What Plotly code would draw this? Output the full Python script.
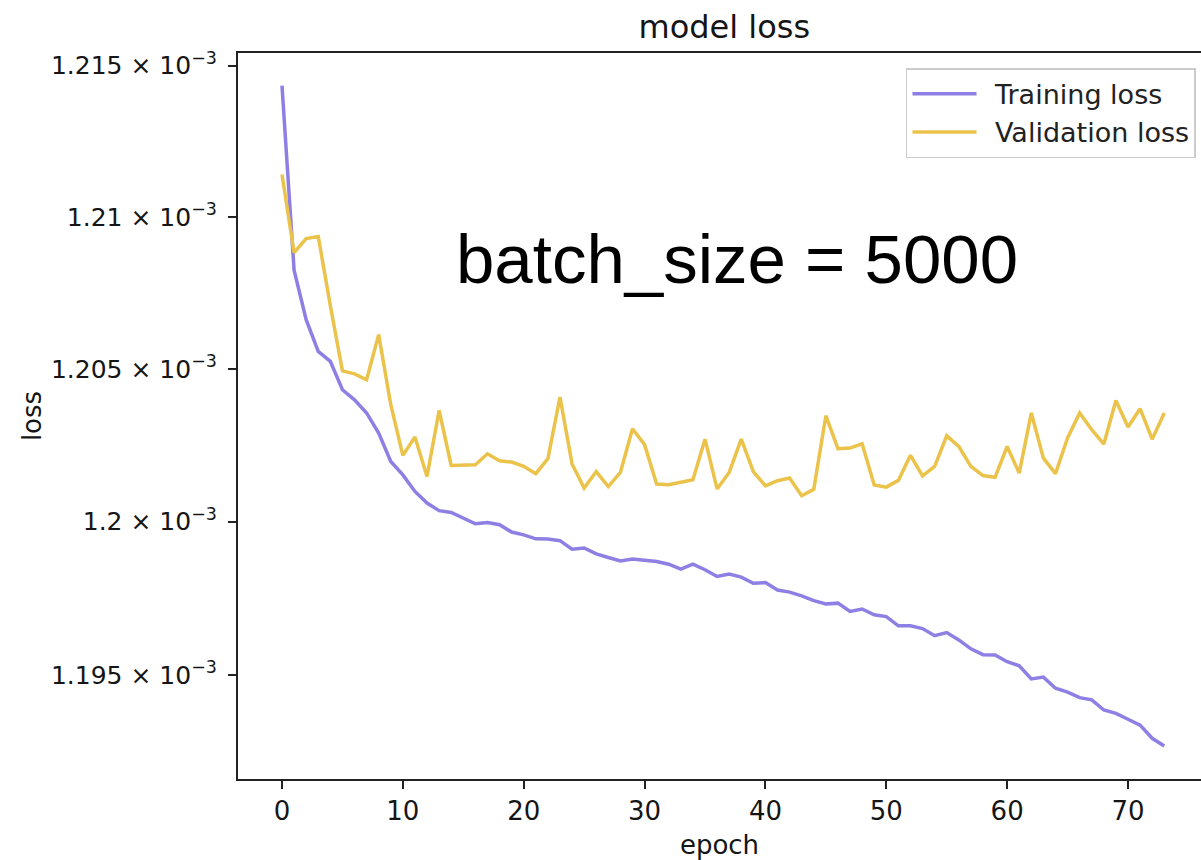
import plotly.graph_objects as go

epochs = list(range(74))

training_loss = [
    1.21434, 1.20825, 1.20662, 1.20558, 1.20525, 1.20432, 1.20399, 1.20356, 1.20290, 1.20197,
    1.20153, 1.20099, 1.20061, 1.20036, 1.20030, 1.20011, 1.19993, 1.19997, 1.19990, 1.19966,
    1.19957, 1.19944, 1.19943, 1.19938, 1.19910, 1.19914, 1.19895, 1.19883, 1.19872, 1.19878,
    1.19875, 1.19870, 1.19861, 1.19845, 1.19861, 1.19843, 1.19821, 1.19829, 1.19819, 1.19799,
    1.19801, 1.19777, 1.19770, 1.19758, 1.19742, 1.19731, 1.19734, 1.19707, 1.19715, 1.19696,
    1.19690, 1.19660, 1.19660, 1.19651, 1.19628, 1.19638, 1.19614, 1.19585, 1.19566, 1.19565,
    1.19543, 1.19530, 1.19487, 1.19493, 1.19457, 1.19444, 1.19426, 1.19419, 1.19386, 1.19375,
    1.19356, 1.19337, 1.19294, 1.19269,
]

validation_loss = [
    1.21140, 1.20883, 1.20929, 1.20936, 1.20708, 1.20494, 1.20484, 1.20465, 1.20613, 1.20383,
    1.20217, 1.20277, 1.20148, 1.20364, 1.20184, 1.20184, 1.20186, 1.20222, 1.20199, 1.20195,
    1.20181, 1.20157, 1.20206, 1.20408, 1.20189, 1.20110, 1.20164, 1.20115, 1.20161, 1.20304,
    1.20252, 1.20123, 1.20121, 1.20129, 1.20137, 1.20270, 1.20107, 1.20161, 1.20270, 1.20164,
    1.20117, 1.20134, 1.20143, 1.20085, 1.20106, 1.20347, 1.20239, 1.20241, 1.20255, 1.20120,
    1.20113, 1.20135, 1.20217, 1.20150, 1.20181, 1.20281, 1.20246, 1.20181, 1.20151, 1.20145,
    1.20246, 1.20159, 1.20356, 1.20208, 1.20157, 1.20274, 1.20356, 1.20301, 1.20254, 1.20397,
    1.20310, 1.20370, 1.20270, 1.20356,
]

# values above are in units of 1e-3
scale = 1e-3
train = [v * scale for v in training_loss]
val = [v * scale for v in validation_loss]

y_tick_values = [1.195, 1.2, 1.205, 1.21, 1.215]
y_tick_labels = ["1.195 × 10<sup>−3</sup>", "1.2 × 10<sup>−3</sup>", "1.205 × 10<sup>−3</sup>",
                 "1.21 × 10<sup>−3</sup>", "1.215 × 10<sup>−3</sup>"]
x_tick_values = [0, 10, 20, 30, 40, 50, 60, 70]
series_names = ["Training loss", "Validation loss"]

PURPLE = "#8D7FE3"
YELLOW = "#EBC34B"
FONT = "DejaVu Sans"
TXT = "#151515"

fig = go.Figure()
fig.add_trace(go.Scatter(x=epochs, y=train, mode="lines", name="\u2002" + series_names[0],
                         line=dict(color=PURPLE, width=3.5)))
fig.add_trace(go.Scatter(x=epochs, y=val, mode="lines", name="\u2002" + series_names[1],
                         line=dict(color=YELLOW, width=3.5)))

fig.update_layout(
    width=1201, height=860,
    margin=dict(l=238, r=0, t=53, b=81),
    paper_bgcolor="white", plot_bgcolor="white",
    font=dict(family=FONT, size=26, color=TXT),
    showlegend=True,
    legend=dict(x=0.9948, y=0.979, xanchor="right", yanchor="top", itemwidth=64,
                bgcolor="rgba(255,255,255,0.8)", bordercolor="#cccccc", borderwidth=1.5,
                font=dict(family=FONT, size=27, color="#222222")),
    title=dict(text="model loss", xref="paper", x=0.505, xanchor="center",
               yref="container", y=1 - 27 / 860, yanchor="middle",
               font=dict(family=FONT, size=32, color=TXT)),
)

fig.update_xaxes(
    range=[-3.64, 76.04], tickvals=x_tick_values, ticks="outside", ticklen=8, tickwidth=2,
    tickcolor="#222222", showline=True, linecolor="#222222", linewidth=2, mirror=True,
    showgrid=False, zeroline=False, tickfont=dict(family=FONT, size=26, color=TXT),
    title=dict(text="epoch", font=dict(family=FONT, size=26, color=TXT), standoff=12),
)
fig.update_yaxes(
    type="log", range=[-2.923863, -2.915274],
    tickvals=[v * scale for v in y_tick_values], ticktext=y_tick_labels,
    ticks="outside", ticklen=8, tickwidth=2, tickcolor="#222222", ticklabelstandoff=6,
    showline=True, linecolor="#222222", linewidth=2, mirror=False,
    showgrid=False, zeroline=False, tickfont=dict(family=FONT, size=25, color=TXT),
    title=dict(text="loss", font=dict(family=FONT, size=26, color=TXT), standoff=2),
)

fig.add_annotation(text="batch_size = 5000", xref="paper", yref="paper",
                   x=0.518, y=0.715, xanchor="center", yanchor="middle", showarrow=False,
                   font=dict(family="Liberation Sans", size=69, color="black"))

fig.write_html("out.html")
